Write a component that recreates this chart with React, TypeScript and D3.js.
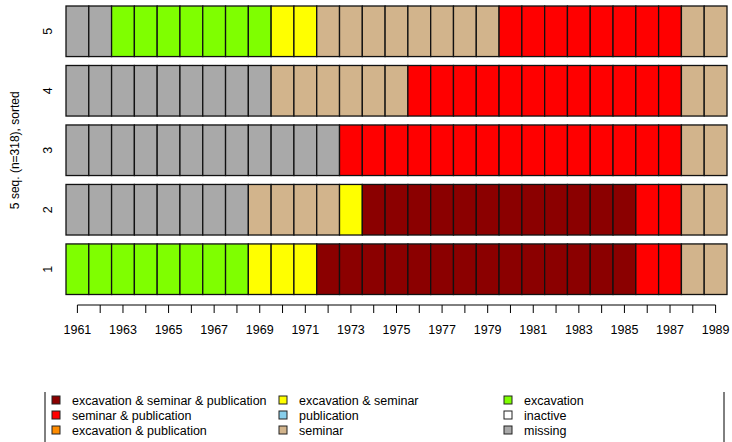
import React, { useEffect, useRef } from 'react';
import { select, scaleBand, scaleOrdinal, axisBottom } from 'd3';

const stateCodes = ['ESP', 'SP', 'EP', 'ES', 'P', 'S', 'E', 'I', 'M'];
const stateLabels = [
  'excavation & seminar & publication',
  'seminar & publication',
  'excavation & publication',
  'excavation & seminar',
  'publication',
  'seminar',
  'excavation',
  'inactive',
  'missing',
];
const stateColors = [
  '#8B0000', '#FF0000', '#FF8C00', '#FFFF00', '#87CEEB', '#D2B48C', '#7FFF00', '#FFFFFF', '#A9A9A9',
];

const years = [
  1961, 1962, 1963, 1964, 1965, 1966, 1967, 1968, 1969, 1970, 1971, 1972, 1973, 1974, 1975,
  1976, 1977, 1978, 1979, 1980, 1981, 1982, 1983, 1984, 1985, 1986, 1987, 1988, 1989,
];

const seqIds = ['1', '2', '3', '4', '5'];
const seq1 = ['E','E','E','E','E','E','E','E','ES','ES','ES','ESP','ESP','ESP','ESP','ESP','ESP','ESP','ESP','ESP','ESP','ESP','ESP','ESP','ESP','SP','SP','S','S'];
const seq2 = ['M','M','M','M','M','M','M','M','S','S','S','S','ES','ESP','ESP','ESP','ESP','ESP','ESP','ESP','ESP','ESP','ESP','ESP','ESP','SP','SP','S','S'];
const seq3 = ['M','M','M','M','M','M','M','M','M','M','M','M','SP','SP','SP','SP','SP','SP','SP','SP','SP','SP','SP','SP','SP','SP','SP','S','S'];
const seq4 = ['M','M','M','M','M','M','M','M','M','S','S','S','S','S','S','SP','SP','SP','SP','SP','SP','SP','SP','SP','SP','SP','SP','S','S'];
const seq5 = ['M','M','E','E','E','E','E','E','E','ES','ES','S','S','S','S','S','S','S','S','SP','SP','SP','SP','SP','SP','SP','SP','S','S'];
const sequences = [seq1, seq2, seq3, seq4, seq5];

const W = 732;
const H = 442;
const FONT = '"Liberation Sans", Arial, sans-serif';

export default function App() {
  const svgRef = useRef<SVGSVGElement>(null);

  useEffect(() => {
    const svg = select(svgRef.current);
    svg.selectAll('*').remove();

    const x = scaleBand<number>().domain(years).range([66, 727]).padding(0);
    const y = scaleBand<string>()
      .domain([...seqIds].reverse())
      .range([6, 294.5])
      .paddingInner(0.15)
      .paddingOuter(0);
    const color = scaleOrdinal<string, string>().domain(stateCodes).range(stateColors);

    // sequence rows
    svg
      .append('g')
      .selectAll('g')
      .data(sequences)
      .join('g')
      .attr('transform', (_, i) => `translate(0,${y(seqIds[i])})`)
      .selectAll('rect')
      .data((d) => d)
      .join('rect')
      .attr('x', (_, j) => x(years[j]))
      .attr('y', 0)
      .attr('width', x.bandwidth())
      .attr('height', y.bandwidth())
      .attr('fill', (d) => color(d))
      .attr('stroke', '#111')
      .attr('stroke-width', 1.3);

    // x axis
    const xAxis = axisBottom(x)
      .tickSize(8)
      .tickFormat((d) => (Number(d) % 2 === 1 ? String(d) : ''));
    const gx = svg.append('g').attr('transform', 'translate(0,305)').call(xAxis);
    gx.select('.domain').remove();
    gx.append('line')
      .attr('x1', x(years[0]) + x.bandwidth() / 2)
      .attr('x2', x(years[years.length - 1]) + x.bandwidth() / 2)
      .attr('stroke', '#000');
    gx.selectAll('.tick line').attr('stroke', '#000');
    gx.selectAll('.tick text')
      .attr('y', 20)
      .attr('fill', '#000')
      .style('font-family', FONT)
      .style('font-size', '12.5px');

    // y labels
    const gy = svg.append('g');
    gy.selectAll('text')
      .data(seqIds)
      .join('text')
      .attr('transform', (d) => `translate(52,${y(d) + y.bandwidth() / 2}) rotate(-90)`)
      .attr('text-anchor', 'middle')
      .style('font-family', FONT)
      .style('font-size', '12.5px')
      .text((d) => d);
    svg
      .append('text')
      .attr('transform', `translate(19,${(6 + 294.5) / 2}) rotate(-90)`)
      .attr('text-anchor', 'middle')
      .style('font-family', FONT)
      .style('font-size', '12px')
      .text(`5 seq. (n=318), sorted`);

    // legend
    const leg = svg.append('g');
    leg.append('line').attr('x1', 45).attr('x2', 45).attr('y1', 392).attr('y2', H).attr('stroke', '#000');
    leg.append('line').attr('x1', 724).attr('x2', 724).attr('y1', 392).attr('y2', H).attr('stroke', '#000');
    const colX = [52, 279, 504];
    const item = leg
      .selectAll('g.item')
      .data(stateCodes)
      .join('g')
      .attr('class', 'item')
      .attr('transform', (_, i) => `translate(${colX[Math.floor(i / 3)]},${400 + (i % 3) * 15})`);
    item
      .append('rect')
      .attr('x', 0)
      .attr('y', -4)
      .attr('width', 8)
      .attr('height', 8)
      .attr('fill', (d) => color(d))
      .attr('stroke', '#222')
      .attr('stroke-width', 1);
    item
      .append('text')
      .attr('x', 20)
      .attr('y', 4.5)
      .style('font-family', FONT)
      .style('font-size', '12.5px')
      .text((_, i) => stateLabels[i]);
  }, []);

  return (
    <div style={{ position: 'absolute', left: 0, top: 0 }}>
      <svg ref={svgRef} width={W} height={H} style={{ display: 'block', background: '#fff' }} />
    </div>
  );
}
